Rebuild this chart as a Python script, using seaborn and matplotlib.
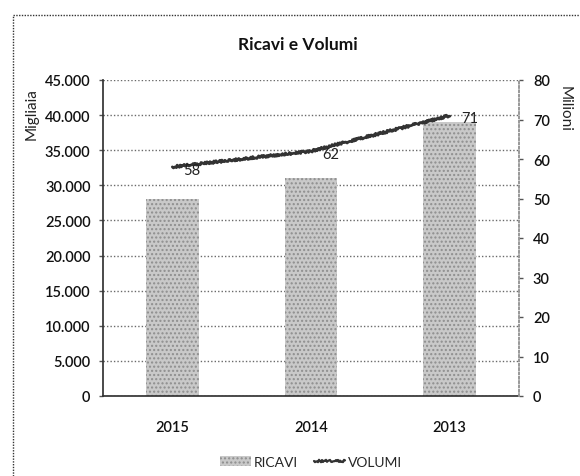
import matplotlib
matplotlib.use("Agg")
import matplotlib.pyplot as plt
from matplotlib.lines import Line2D
from matplotlib.patches import Patch
from matplotlib.ticker import FuncFormatter, MultipleLocator
import seaborn as sns
import pandas as pd

# Dati
anni = ["2015", "2014", "2013"]
ricavi = [28000, 31000, 39000]      # migliaia
volumi = [58, 62, 71]               # milioni

sns.set_theme(style="white")
plt.rcParams["font.family"] = ["Lato", "DejaVu Sans"]

df = pd.DataFrame({"anno": anni, "ricavi": ricavi, "volumi": volumi})

fig = plt.figure(figsize=(5.8, 4.77), dpi=100)
ax = fig.add_axes([103 / 580, 1 - 397 / 477, (519 - 103) / 580, (397 - 81) / 477])

bar_col = "#c9c9c9"
hatch_col = "#8e8e8e"
sns.barplot(data=df, x="anno", y="ricavi", ax=ax, color=bar_col, width=0.38,
            saturation=1, linewidth=0)
for p in ax.patches:
    p.set_hatch("....")
    p.set_edgecolor(hatch_col)
    p.set_linewidth(0)

ax.set_ylim(0, 45000)
ax.set_xlim(-0.5, 2.5)
ax.yaxis.set_major_locator(MultipleLocator(5000))
ax.yaxis.set_major_formatter(FuncFormatter(lambda v, _: f"{int(v):,}".replace(",", ".")))
ax.set_axisbelow(True)
ax.grid(axis="y", color="#6a6a6a", linestyle=(0, (1, 1.5)), linewidth=1)
ax.grid(axis="x", visible=False)
ax.set_xlabel("")
ax.set_ylabel("")

ax.spines["top"].set_visible(False)
ax.spines["left"].set_linestyle((0, (1, 1)))
ax.spines["left"].set_color("#333333")
ax.spines["bottom"].set_linestyle((0, (1, 1)))
ax.spines["bottom"].set_color("#333333")
ax.spines["right"].set_linestyle((0, (1, 1.5)))
ax.spines["right"].set_color("#999999")

ax.tick_params(axis="y", length=3, width=1, color="#555555", pad=6,
               labelsize=10.5, labelcolor="#111111", left=True)
ax.tick_params(axis="x", length=0, pad=17, labelsize=10.5, labelcolor="#111111")
for t in ax.get_xticklabels() + ax.get_yticklabels():
    t.set_fontweight("semibold")

# Asse secondario: volumi
ax2 = ax.twinx()
sns.lineplot(data=df, x="anno", y="volumi", ax=ax2, sort=False,
             color="#333333", linewidth=2.0, legend=False)
for ln in ax2.lines:
    ln.set_sketch_params(scale=1.2, length=2.5, randomness=2)
ax2.set_ylim(0, 80)
ax2.set_xlim(-0.5, 2.5)
ax2.yaxis.set_major_locator(MultipleLocator(10))
ax2.set_ylabel("")
ax2.grid(False)
for side in ["top", "left", "bottom"]:
    ax2.spines[side].set_visible(False)
ax2.spines["right"].set_linestyle((0, (1, 1.5)))
ax2.spines["right"].set_color("#999999")
ax2.tick_params(axis="y", length=3, width=1, color="#555555", pad=7,
                labelsize=10.5, labelcolor="#111111", right=True)
for t in ax2.get_yticklabels():
    t.set_fontweight("semibold")

for i, v in enumerate(volumi):
    ax2.annotate(str(v), (i, v), xytext=(8, -2), textcoords="offset points",
                 ha="left", va="center", fontsize=10.5, color="#222222")

# Titoli e etichette degli assi
fig.text(298 / 580, 1 - 45 / 477, "Ricavi e Volumi", ha="center", va="center",
         fontsize=12.5, fontweight="bold", color="#111111")
fig.text(32 / 580, 1 - 114 / 477, "Migliaia", rotation=90, ha="center",
         va="center", fontsize=11, color="#222222")
fig.text(565 / 580, 1 - 109 / 477, "Milioni", rotation=270, ha="center",
         va="center", fontsize=11, color="#222222")

# Legenda
handles = [
    Patch(facecolor=bar_col, edgecolor=hatch_col, hatch="....", linewidth=0),
    Line2D([0], [0], color="#333333", linewidth=1.6),
]
leg = fig.legend(handles, ["RICAVI", "VOLUMI"], loc="center",
                 bbox_to_anchor=(311 / 580, 1 - 463 / 477), ncol=2, frameon=False,
                 fontsize=10, handlelength=2.2, handletextpad=0.2, columnspacing=1.2)
for ln in leg.get_lines():
    ln.set_sketch_params(scale=1.2, length=2.5, randomness=2)

# Cornice tratteggiata del riquadro
frame_style = dict(color="#333333", linewidth=1, linestyle=(0, (1, 1)))
fig.add_artist(Line2D([13 / 580, 1.0], [1 - 16 / 477, 1 - 16 / 477],
                      transform=fig.transFigure, **frame_style))
fig.add_artist(Line2D([13 / 580, 13 / 580], [0.0, 1 - 16 / 477],
                      transform=fig.transFigure, **frame_style))

fig.savefig("out.png", dpi=100, facecolor="white")
